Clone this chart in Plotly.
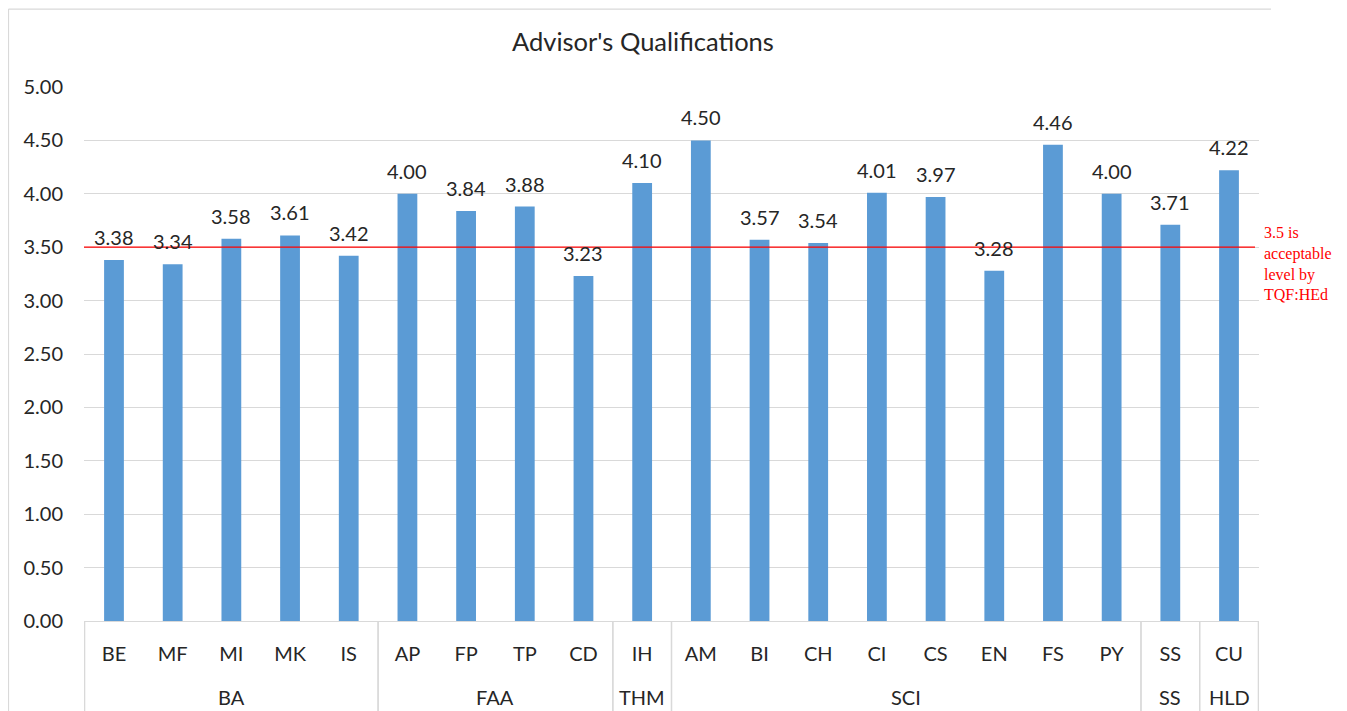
import plotly.graph_objects as go

groups = ["BA", "BA", "BA", "BA", "BA", "FAA", "FAA", "FAA", "FAA", "THM",
          "SCI", "SCI", "SCI", "SCI", "SCI", "SCI", "SCI", "SCI", "SS", "HLD"]
programs = ["BE", "MF", "MI", "MK", "IS", "AP", "FP", "TP", "CD", "IH",
            "AM", "BI", "CH", "CI", "CS", "EN", "FS", "PY", "SS", "CU"]
scores = [3.38, 3.34, 3.58, 3.61, 3.42, 4.00, 3.84, 3.88, 3.23, 4.10,
          4.50, 3.57, 3.54, 4.01, 3.97, 3.28, 4.46, 4.00, 3.71, 4.22]
threshold = 3.5
threshold_note = "3.5 is<br>acceptable<br>level by<br>TQF:HEd"
y_ticks = [0, 0.5, 1, 1.5, 2, 2.5, 3, 3.5, 4, 4.5, 5]

font = "Lato, Open Sans, sans-serif"
txt = "#262626"
grey = "#d9d9d9"

fig = go.Figure()
fig.add_trace(go.Bar(
    x=programs, y=scores,
    marker=dict(color="#5b9bd5", line=dict(width=0)),
    width=0.337,
    hoverinfo="x+y",
))

# value labels above bars
for p, v in zip(programs, scores):
    fig.add_annotation(x=p, y=v, text=f"{v:.2f}", showarrow=False,
                       xref="x", yref="y", yanchor="middle", yshift=23,
                       font=dict(family=font, size=20, color=txt))

# group labels and dividers
spans = []
start = 0
for i in range(1, len(groups) + 1):
    if i == len(groups) or groups[i] != groups[start]:
        spans.append((groups[start], start, i - 1))
        start = i
for name, a, b in spans:
    fig.add_annotation(x=(a + b) / 2, y=-0.1423, xref="x", yref="paper",
                       text=name, showarrow=False, yanchor="middle",
                       font=dict(family=font, size=20, color=txt))
    for edge in (a - 0.5, b + 0.5):
        fig.add_shape(type="line", xref="x", yref="paper", x0=edge, x1=edge,
                      y0=0, y1=-0.2, line=dict(color=grey, width=1.3))

# threshold line and note
fig.add_shape(type="line", xref="paper", yref="y", x0=0, x1=0.9966,
              y0=threshold, y1=threshold, line=dict(color="#ff0000", width=1.3))
fig.add_annotation(xref="paper", yref="y", x=1.0026, y=threshold, yshift=25,
                   text=threshold_note, showarrow=False, xanchor="left", yanchor="top",
                   align="left",
                   font=dict(family="Liberation Serif, Times New Roman, serif", size=16,
                             color="#ff0000"))

# chart border (top and left)
fig.add_shape(type="line", xref="paper", yref="paper", x0=-0.0643, x1=1.0102,
              y0=1.146, y1=1.146, line=dict(color=grey, width=1.3))
fig.add_shape(type="line", xref="paper", yref="paper", x0=-0.0643, x1=-0.0643,
              y0=1.146, y1=-0.3, line=dict(color=grey, width=1.3))

fig.update_layout(
    width=1347, height=711,
    margin=dict(l=76, r=96, t=79, b=98),
    paper_bgcolor="white", plot_bgcolor="white",
    title=dict(text="Advisor's Qualifications", x=0.4714, xanchor="center",
               y=0.952, yanchor="middle",
               font=dict(family=font, size=25.5, color=txt)),
    showlegend=False,
    xaxis=dict(type="category", showline=True, linecolor=grey, linewidth=1.3,
               tickfont=dict(family=font, size=20, color=txt),
               ticks="", showgrid=False, ticklabelstandoff=15),
    yaxis=dict(range=[0, 5], tickvals=y_ticks, tickformat=".2f",
               showgrid=True, gridcolor=grey, gridwidth=1.3,
               zeroline=False, showline=False, ticks="",
               tickfont=dict(family=font, size=20, color=txt),
               ticklabelstandoff=20),
)

fig.write_html("out.html")
